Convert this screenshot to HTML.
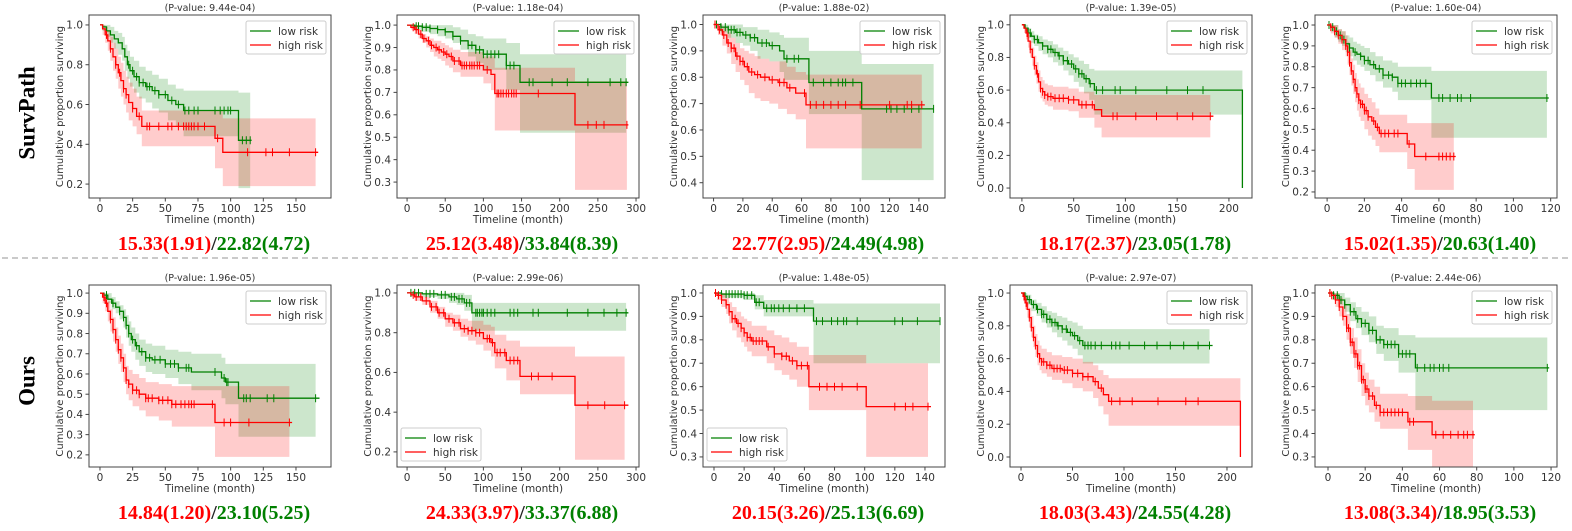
<!DOCTYPE html>
<html><head><meta charset="utf-8">
<style>
html,body{margin:0;padding:0;background:#fff;}
svg{display:block;}
text{font-family:"DejaVu Sans","Liberation Sans",sans-serif;}
</style></head>
<body>
<svg id="fig" width="1572" height="531" viewBox="0 0 1572 531" xmlns="http://www.w3.org/2000/svg">
<line x1="2" y1="258" x2="1570" y2="258" stroke="#aaa" stroke-width="1.3" stroke-dasharray="6,4"/>
<text x="29" y="113" transform="rotate(-90 29 113)" text-anchor="middle" dominant-baseline="middle" style="font-family:'Liberation Serif',serif;font-weight:bold;font-size:23px">SurvPath</text>
<text x="29" y="381" transform="rotate(-90 29 381)" text-anchor="middle" dominant-baseline="middle" style="font-family:'Liberation Serif',serif;font-weight:bold;font-size:23px">Ours</text>
</svg>
<script>
// ---------- DATA ----------
const titles=["(P-value: 9.44e-04)","(P-value: 1.18e-04)","(P-value: 1.88e-02)","(P-value: 1.39e-05)","(P-value: 1.60e-04)",
"(P-value: 1.96e-05)","(P-value: 2.99e-06)","(P-value: 1.48e-05)","(P-value: 2.97e-07)","(P-value: 2.44e-06)"];
const highScores=["15.33(1.91)","25.12(3.48)","22.77(2.95)","18.17(2.37)","15.02(1.35)","14.84(1.20)","24.33(3.97)","20.15(3.26)","18.03(3.43)","13.08(3.34)"];
const lowScores=["22.82(4.72)","33.84(8.39)","24.49(4.98)","23.05(1.78)","20.63(1.40)","23.10(5.25)","33.37(6.88)","25.13(6.69)","24.55(4.28)","18.95(3.53)"];
const xTicks1=[0,25,50,75,100,125,150];
const xTicks2=[0,50,100,150,200,250,300];
const xTicks3=[0,20,40,60,80,100,120,140];
const xTicks4=[0,50,100,150,200];
const xTicks5=[0,20,40,60,80,100,120];
const yTicksA=[0.2,0.4,0.6,0.8,1.0];
const yTicksB=[0.3,0.4,0.5,0.6,0.7,0.8,0.9,1.0];
const yTicksC=[0.4,0.5,0.6,0.7,0.8,0.9,1.0];
const yTicksD=[0.0,0.2,0.4,0.6,0.8,1.0];
const yTicksE=[0.2,0.3,0.4,0.5,0.6,0.7,0.8,0.9,1.0];

// Top 1
const t1LowT=[2,5,8,11,14,17,19,21,23,26,30,35,40,45,52,58,64,106];
const t1LowS=[0.99,0.97,0.95,0.93,0.91,0.88,0.84,0.8,0.77,0.74,0.71,0.69,0.67,0.65,0.62,0.6,0.57,0.42];
const t1LowLo=[0.97,0.94,0.91,0.88,0.85,0.82,0.77,0.73,0.69,0.66,0.63,0.61,0.58,0.56,0.52,0.49,0.44,0.18];
const t1LowHi=[1,1,0.99,0.97,0.96,0.94,0.9,0.87,0.84,0.82,0.79,0.77,0.75,0.73,0.7,0.68,0.67,0.66];
const t1LowC=[22,25,28,30,33,36,38,42,45,50,55,60,65,68,72,75,88,92,95,98,100,109,112,115];
const t1HighT=[2,4,6,8,10,12,14,16,18,20,22,25,28,32,88,94];
const t1HighS=[0.98,0.95,0.92,0.88,0.84,0.8,0.76,0.72,0.68,0.65,0.61,0.58,0.54,0.49,0.43,0.36];
const t1HighLo=[0.95,0.91,0.87,0.82,0.77,0.73,0.68,0.64,0.6,0.56,0.52,0.49,0.45,0.39,0.28,0.19];
const t1HighHi=[1,0.99,0.97,0.94,0.91,0.88,0.84,0.81,0.77,0.74,0.71,0.68,0.64,0.57,0.57,0.53];
const t1HighC=[5,8,12,15,18,20,25,30,36,38,45,52,55,60,64,66,68,70,72,75,80,90,113,127,132,145,165];
// Top 2
const t2LowT=[10,20,30,40,50,60,70,80,90,100,130,148];
const t2LowS=[0.995,0.99,0.985,0.98,0.97,0.95,0.93,0.91,0.89,0.87,0.82,0.745];
const t2LowLo=[0.98,0.97,0.96,0.95,0.94,0.92,0.89,0.86,0.83,0.8,0.71,0.52];
const t2LowHi=[1,1,1,1,1,0.99,0.98,0.96,0.95,0.94,0.92,0.87];
const t2LowC=[12,15,20,25,30,40,50,60,70,80,85,90,95,100,105,110,115,120,130,135,140,160,165,190,210,237,266,280,287];
const t2HighT=[5,10,15,20,25,30,35,40,45,50,55,60,70,100,110,115,220];
const t2HighS=[0.99,0.98,0.96,0.94,0.93,0.91,0.9,0.89,0.88,0.87,0.86,0.84,0.82,0.8,0.78,0.695,0.555];
const t2HighLo=[0.98,0.96,0.94,0.92,0.9,0.88,0.86,0.85,0.84,0.82,0.81,0.79,0.77,0.74,0.71,0.53,0.265];
const t2HighHi=[1,1,0.98,0.96,0.95,0.94,0.93,0.93,0.92,0.91,0.9,0.89,0.88,0.86,0.86,0.81,0.75];
const t2HighC=[8,12,18,22,28,32,38,42,48,52,58,62,68,72,75,78,82,85,88,92,95,105,118,120,123,126,130,133,137,140,143,172,237,248,258,288];
// Top 3
const t3LowT=[5,10,15,20,25,30,38,45,48,65,101];
const t3LowS=[0.99,0.98,0.97,0.96,0.95,0.93,0.92,0.9,0.87,0.78,0.68];
const t3LowLo=[0.97,0.95,0.93,0.92,0.9,0.87,0.86,0.82,0.79,0.66,0.41];
const t3LowHi=[1,1,1,0.99,0.99,0.98,0.97,0.96,0.95,0.9,0.85];
const t3LowC=[2,5,8,10,12,14,16,18,22,25,28,33,36,40,50,55,58,68,75,80,85,88,90,95,118,121,125,130,135,140,150];
const t3HighT=[3,6,9,12,15,18,21,24,28,32,38,44,50,56,63];
const t3HighS=[0.98,0.96,0.93,0.91,0.88,0.86,0.84,0.82,0.81,0.8,0.79,0.78,0.76,0.74,0.695];
const t3HighLo=[0.96,0.92,0.89,0.85,0.82,0.79,0.77,0.74,0.72,0.71,0.7,0.68,0.66,0.64,0.53];
const t3HighHi=[1,0.99,0.97,0.95,0.93,0.91,0.9,0.89,0.88,0.87,0.86,0.86,0.84,0.82,0.81];
const t3HighC=[1,4,7,10,12,14,16,18,20,23,26,30,35,40,45,48,52,62,66,70,75,80,85,90,100,120,132,135,142];
// Top 4
const t4LowT=[3,6,9,12,16,20,25,30,35,40,45,50,55,60,65,70,213];
const t4LowS=[0.98,0.95,0.93,0.91,0.89,0.87,0.85,0.83,0.81,0.78,0.76,0.73,0.7,0.67,0.64,0.6,0.0];
const t4LowLo=[0.96,0.92,0.89,0.87,0.84,0.82,0.8,0.77,0.75,0.72,0.69,0.65,0.62,0.58,0.54,0.45,0.45];
const t4LowHi=[1,0.98,0.96,0.94,0.93,0.91,0.9,0.88,0.86,0.84,0.82,0.8,0.78,0.76,0.73,0.72,0.72];
const t4LowC=[8,12,15,20,25,28,32,36,40,44,48,52,55,58,62,66,72,78,90,95,110,140,160,175];
const t4HighT=[2,4,6,8,10,12,14,16,18,20,22,25,30,45,55,70,77];
const t4HighS=[0.98,0.95,0.9,0.85,0.8,0.75,0.7,0.65,0.61,0.59,0.57,0.56,0.55,0.54,0.51,0.48,0.44];
const t4HighLo=[0.95,0.91,0.86,0.8,0.75,0.69,0.64,0.59,0.55,0.53,0.51,0.5,0.48,0.47,0.43,0.37,0.31];
const t4HighHi=[1,0.98,0.94,0.9,0.86,0.81,0.77,0.72,0.68,0.66,0.64,0.63,0.62,0.61,0.59,0.57,0.57];
const t4HighC=[5,8,12,15,18,20,22,25,28,32,36,40,45,50,58,62,68,88,92,110,130,150,165,182];
// Top 5
const t5LowT=[2,4,6,8,10,12,14,16,18,20,23,26,30,35,38,56];
const t5LowS=[0.99,0.97,0.95,0.93,0.91,0.89,0.87,0.86,0.85,0.83,0.81,0.79,0.76,0.75,0.72,0.65];
const t5LowLo=[0.97,0.94,0.92,0.9,0.87,0.85,0.83,0.81,0.8,0.78,0.76,0.73,0.7,0.68,0.64,0.46];
const t5LowHi=[1,1,0.98,0.97,0.95,0.94,0.92,0.91,0.9,0.89,0.87,0.85,0.83,0.82,0.8,0.78];
const t5LowC=[1,3,5,7,9,12,15,18,20,22,25,28,30,33,35,38,40,42,45,48,50,53,60,62,66,70,72,77,118];
const t5HighT=[2,4,6,8,10,11,12,13,14,15,16,17,18,20,22,24,26,28,43,47];
const t5HighS=[0.99,0.97,0.95,0.93,0.9,0.87,0.82,0.78,0.74,0.7,0.67,0.64,0.62,0.59,0.56,0.54,0.51,0.48,0.43,0.37];
const t5HighLo=[0.96,0.94,0.91,0.88,0.85,0.81,0.76,0.71,0.67,0.63,0.59,0.56,0.54,0.5,0.47,0.45,0.42,0.39,0.31,0.21];
const t5HighHi=[1,1,0.98,0.97,0.95,0.92,0.88,0.84,0.81,0.77,0.74,0.72,0.7,0.67,0.65,0.63,0.6,0.57,0.53,0.53];
const t5HighC=[2,4,6,8,10,11,12,13,14,15,16,17,18,19,20,21,22,25,27,29,31,33,36,38,44,53,60,62,64,66,68];
// Bottom 1
const b1LowT=[3,6,9,12,15,18,20,22,24,27,30,35,40,50,60,70,93,96,106];
const b1LowS=[0.99,0.97,0.95,0.93,0.91,0.88,0.84,0.8,0.77,0.74,0.71,0.68,0.67,0.65,0.63,0.61,0.58,0.56,0.48];
const b1LowLo=[0.97,0.95,0.92,0.9,0.87,0.83,0.78,0.74,0.71,0.67,0.64,0.61,0.6,0.58,0.55,0.52,0.48,0.45,0.29];
const b1LowHi=[1,1,0.98,0.96,0.94,0.92,0.89,0.86,0.83,0.8,0.77,0.75,0.74,0.72,0.71,0.7,0.68,0.65,0.65];
const b1LowC=[5,10,15,18,20,22,25,28,32,35,38,42,46,50,54,57,60,66,68,88,95,97,98,110,112,115,128,133,165];
const b1HighT=[2,4,6,8,10,12,14,16,18,20,22,25,30,35,45,55,88];
const b1HighS=[0.98,0.95,0.91,0.87,0.82,0.77,0.72,0.68,0.63,0.57,0.55,0.52,0.5,0.48,0.47,0.45,0.36];
const b1HighLo=[0.95,0.91,0.86,0.81,0.76,0.71,0.65,0.61,0.56,0.5,0.47,0.44,0.42,0.39,0.37,0.34,0.19];
const b1HighHi=[1,0.99,0.96,0.92,0.88,0.83,0.79,0.75,0.7,0.64,0.62,0.6,0.58,0.56,0.55,0.54,0.54];
const b1HighC=[3,5,8,10,12,14,16,18,20,22,25,28,30,35,37,40,45,48,52,55,58,62,65,68,70,72,86,95,100,114,145];
// Bottom 2
const b2LowT=[20,40,55,65,75,85];
const b2LowS=[0.995,0.99,0.98,0.97,0.95,0.9];
const b2LowLo=[0.98,0.97,0.95,0.94,0.91,0.81];
const b2LowHi=[1,1,1,1,0.99,0.95];
const b2LowC=[5,10,15,25,30,35,45,50,58,62,68,72,78,82,90,92,95,98,100,105,110,115,135,140,145,165,172,210,237,258,275,287];
const b2HighT=[5,10,20,30,40,50,60,70,80,90,100,110,115,130,148,220];
const b2HighS=[0.99,0.98,0.96,0.93,0.9,0.87,0.85,0.82,0.81,0.8,0.77,0.75,0.7,0.66,0.58,0.435];
const b2HighLo=[0.98,0.96,0.94,0.9,0.87,0.83,0.81,0.78,0.76,0.74,0.71,0.68,0.62,0.56,0.49,0.16];
const b2HighHi=[1,1,0.98,0.96,0.93,0.9,0.89,0.87,0.86,0.86,0.84,0.83,0.79,0.76,0.73,0.68];
const b2HighC=[8,12,18,25,32,38,42,48,55,62,68,75,80,85,90,95,105,108,112,118,122,128,135,140,145,163,172,190,237,259,285];
// Bottom 3
const b3LowT=[5,20,27,33,66];
const b3LowS=[0.995,0.99,0.96,0.935,0.88];
const b3LowLo=[0.98,0.97,0.93,0.9,0.7];
const b3LowHi=[1,1,0.99,0.97,0.955];
const b3LowC=[5,8,10,12,14,16,18,20,22,25,28,30,35,38,40,43,46,50,55,60,68,72,78,82,86,88,95,120,125,135,150];
const b3HighT=[2,5,8,10,12,15,18,20,22,25,35,40,45,50,55,63,101];
const b3HighS=[0.99,0.97,0.95,0.92,0.89,0.87,0.85,0.83,0.81,0.795,0.77,0.74,0.73,0.71,0.69,0.6,0.515];
const b3HighLo=[0.97,0.94,0.91,0.87,0.84,0.81,0.79,0.77,0.75,0.73,0.7,0.67,0.65,0.63,0.6,0.5,0.3];
const b3HighHi=[1,1,0.98,0.96,0.94,0.92,0.9,0.89,0.88,0.86,0.84,0.82,0.81,0.79,0.77,0.735,0.7];
const b3HighC=[1,3,5,8,10,12,14,16,18,20,22,24,26,28,30,32,36,40,45,48,52,55,58,62,70,75,80,85,95,120,127,132,142];
// Bottom 4
const b4LowT=[3,6,10,15,20,25,30,35,40,45,50,55,60];
const b4LowS=[0.98,0.96,0.93,0.9,0.87,0.84,0.82,0.8,0.78,0.76,0.74,0.71,0.68];
const b4LowLo=[0.96,0.93,0.89,0.86,0.82,0.79,0.76,0.73,0.71,0.68,0.66,0.62,0.57];
const b4LowHi=[1,0.99,0.96,0.94,0.92,0.89,0.88,0.86,0.85,0.83,0.82,0.8,0.78];
const b4LowC=[4,8,12,16,20,22,25,28,30,33,36,40,44,48,52,57,62,65,68,72,78,88,92,96,105,120,132,145,158,172,183];
const b4HighT=[2,4,6,8,10,12,14,16,18,20,25,30,40,50,60,70,75,80,85,213];
const b4HighS=[0.98,0.94,0.9,0.85,0.79,0.73,0.68,0.63,0.6,0.58,0.56,0.54,0.53,0.51,0.49,0.46,0.42,0.38,0.34,0.0];
const b4HighLo=[0.95,0.9,0.85,0.79,0.73,0.67,0.61,0.56,0.53,0.51,0.49,0.47,0.45,0.42,0.4,0.36,0.31,0.26,0.19,0.19];
const b4HighHi=[1,0.98,0.95,0.91,0.86,0.8,0.75,0.71,0.68,0.66,0.64,0.62,0.61,0.6,0.58,0.56,0.53,0.5,0.48,0.48];
const b4HighC=[3,5,8,10,12,14,16,18,20,22,25,28,32,35,38,42,45,50,55,60,65,72,78,88,96,108,133,160,172];
// Bottom 5
const b5LowT=[3,6,9,12,15,18,22,26,30,38,47];
const b5LowS=[0.99,0.97,0.95,0.92,0.89,0.87,0.84,0.8,0.78,0.74,0.68];
const b5LowLo=[0.97,0.95,0.92,0.88,0.85,0.82,0.79,0.74,0.71,0.66,0.5];
const b5LowHi=[1,1,0.98,0.96,0.94,0.92,0.9,0.86,0.85,0.82,0.81];
const b5LowC=[1,3,5,7,9,12,14,16,18,20,22,24,26,28,30,32,34,36,38,40,42,44,48,52,55,57,60,62,65,118];
const b5HighT=[2,4,6,8,10,12,14,16,18,20,22,25,28,43,56];
const b5HighS=[0.99,0.97,0.94,0.9,0.85,0.79,0.74,0.69,0.63,0.59,0.56,0.52,0.49,0.45,0.395];
const b5HighLo=[0.97,0.94,0.9,0.86,0.8,0.74,0.68,0.62,0.56,0.52,0.49,0.45,0.42,0.33,0.25];
const b5HighHi=[1,1,0.98,0.95,0.91,0.85,0.81,0.76,0.7,0.66,0.63,0.6,0.57,0.56,0.54];
const b5HighC=[1,2,4,6,8,10,11,12,13,14,15,16,17,18,19,20,21,22,24,26,28,30,32,34,36,38,40,44,46,58,62,66,70,73,75,78];
const lowEnds=[116,290,150,213,119,168,290,150,186,119];
const highEnds=[167,290,144,185,69,147,290,144,213,79];

// ---------- LAYOUT ----------
const boxLefts=[89,397,703,1010,1315];
const W=242;
const panels=[
 {row:0,col:0,xl:[-8.4,176.8],yl:[0.13,1.05],xt:xTicks1,yt:yTicksA,low:[t1LowT,t1LowS,t1LowLo,t1LowHi,t1LowC],high:[t1HighT,t1HighS,t1HighLo,t1HighHi,t1HighC],leg:'ur'},
 {row:0,col:1,xl:[-13.2,303.9],yl:[0.229,1.045],xt:xTicks2,yt:yTicksB,low:[t2LowT,t2LowS,t2LowLo,t2LowHi,t2LowC],high:[t2HighT,t2HighS,t2HighLo,t2HighHi,t2HighC],leg:'ur'},
 {row:0,col:2,xl:[-7.2,157.8],yl:[0.342,1.036],xt:xTicks3,yt:yTicksC,low:[t3LowT,t3LowS,t3LowLo,t3LowHi,t3LowC],high:[t3HighT,t3HighS,t3HighLo,t3HighHi,t3HighC],leg:'ur'},
 {row:0,col:3,xl:[-11.5,222.3],yl:[-0.061,1.06],xt:xTicks4,yt:yTicksD,low:[t4LowT,t4LowS,t4LowLo,t4LowHi,t4LowC],high:[t4HighT,t4HighS,t4HighLo,t4HighHi,t4HighC],leg:'ur'},
 {row:0,col:4,xl:[-6.5,123.4],yl:[0.171,1.048],xt:xTicks5,yt:yTicksE,low:[t5LowT,t5LowS,t5LowLo,t5LowHi,t5LowC],high:[t5HighT,t5HighS,t5HighLo,t5HighHi,t5HighC],leg:'ur'},
 {row:1,col:0,xl:[-8.4,176.8],yl:[0.14,1.04],xt:xTicks1,yt:yTicksE,low:[b1LowT,b1LowS,b1LowLo,b1LowHi,b1LowC],high:[b1HighT,b1HighS,b1HighLo,b1HighHi,b1HighC],leg:'ur'},
 {row:1,col:1,xl:[-13.2,303.9],yl:[0.124,1.04],xt:xTicks2,yt:yTicksA,low:[b2LowT,b2LowS,b2LowLo,b2LowHi,b2LowC],high:[b2HighT,b2HighS,b2HighLo,b2HighHi,b2HighC],leg:'ll'},
 {row:1,col:2,xl:[-7.3,153.3],yl:[0.257,1.034],xt:xTicks3,yt:yTicksB,low:[b3LowT,b3LowS,b3LowLo,b3LowHi,b3LowC],high:[b3HighT,b3HighS,b3HighLo,b3HighHi,b3HighC],leg:'ll'},
 {row:1,col:3,xl:[-10.7,224.3],yl:[-0.061,1.049],xt:xTicks4,yt:yTicksD,low:[b4LowT,b4LowS,b4LowLo,b4LowHi,b4LowC],high:[b4HighT,b4HighS,b4HighLo,b4HighHi,b4HighC],leg:'ur'},
 {row:1,col:4,xl:[-7,123.2],yl:[0.257,1.034],xt:xTicks5,yt:yTicksB,low:[b5LowT,b5LowS,b5LowLo,b5LowHi,b5LowC],high:[b5HighT,b5HighS,b5HighLo,b5HighHi,b5HighC],leg:'ur'}
];
const rowTop=[15,285], rowBot=[198,467];
const NS='http://www.w3.org/2000/svg';
const svg=document.getElementById('fig');
function mk(tag,attrs,parent,txt){const e=document.createElementNS(NS,tag);for(const k in attrs)e.setAttribute(k,attrs[k]);if(txt!==undefined)e.textContent=txt;(parent||svg).appendChild(e);return e;}
function stepVal(T,S,x){let v=1;for(let i=0;i<T.length;i++){if(T[i]<=x)v=S[i];}return v;}

panels.forEach((p,i)=>{
 const L=boxLefts[p.col],R=L+W,Tp=rowTop[p.row],B=rowBot[p.row];
 const sx=v=>L+(v-p.xl[0])/(p.xl[1]-p.xl[0])*W;
 const sy=v=>B-(v-p.yl[0])/(p.yl[1]-p.yl[0])*(B-Tp);
 const g=mk('g',{});
 
 
 const cid='clip'+i;
 const cp=mk('clipPath',{id:cid},g);mk('rect',{x:L,y:Tp,width:W,height:B-Tp},cp);
 const plot=mk('g',{'clip-path':'url(#'+cid+')'},g);
 const series=[['low',p.low,'#008000','rgba(0,128,0,0.2)',lowEnds[i]],['high',p.high,'#ff0000','rgba(255,0,0,0.2)',highEnds[i]]];
 // bands
 series.forEach(([nm,d,col,fill,end])=>{
  const [T,S,Lo,Hi,C]=d;
  const bandEnd=Math.max(C.length?C[C.length-1]:0,T[T.length-1]);
  let up='M'+sx(0)+','+sy(1),lo='';
  let prevHi=1,prevLo=1;
  const ups=[[0,1]],los=[[0,1]];
  T.forEach((t,k)=>{ups.push([t,prevHi]);ups.push([t,Hi[k]]);prevHi=Hi[k];los.push([t,prevLo]);los.push([t,Lo[k]]);prevLo=Lo[k];});
  ups.push([bandEnd,prevHi]);los.push([bandEnd,prevLo]);
  const pts=ups.concat(los.reverse());
  const dstr='M'+pts.map(q=>sx(q[0]).toFixed(1)+','+sy(q[1]).toFixed(1)).join('L')+'Z';
  const band=mk('path',{d:dstr,fill:fill,stroke:'none'},plot);
  
  
 });
 series.forEach(([nm,d,col,fill,end])=>{
  const [T,S,Lo,Hi,C]=d;
  let pts=[[0,1]],prev=1;
  T.forEach((t,k)=>{pts.push([t,prev]);pts.push([t,S[k]]);prev=S[k];});
  pts.push([end,prev]);
  const line=mk('path',{d:'M'+pts.map(q=>sx(q[0]).toFixed(1)+','+sy(q[1]).toFixed(1)).join('L'),fill:'none',stroke:col,'stroke-width':1.3},plot);
  
  
  let cd='';
  C.forEach(c=>{const x=sx(c),y=sy(stepVal(T,S,c));cd+='M'+x.toFixed(1)+','+(y-4).toFixed(1)+'V'+(y+4).toFixed(1);});
  const cm=mk('path',{d:cd,stroke:col,'stroke-width':1,fill:'none'},plot);
  
  
 });
 // axes frame
 const fr=mk('rect',{x:L,y:Tp,width:W,height:B-Tp,fill:'none',stroke:'#444','stroke-width':1},g);
 
 
 p.xt.forEach(v=>{const x=sx(v);mk('line',{x1:x,y1:B,x2:x,y2:B+3.5,stroke:'#444'},g);
  const t=mk('text',{x:x,y:B+14,'text-anchor':'middle','font-size':'10.5',fill:'#333'},g,String(v));
  });
 p.yt.forEach(v=>{const y=sy(v);mk('line',{x1:L-3.5,y1:y,x2:L,y2:y,stroke:'#444'},g);
  const t=mk('text',{x:L-6,y:y+3.8,'text-anchor':'end','font-size':'10.5',fill:'#333'},g,v.toFixed(1));
  });
 const xt=mk('text',{x:L+W/2,y:B+25,'text-anchor':'middle','font-size':'10.5',fill:'#333'},g,'Timeline (month)');
 
 const yx=L-29,yy=(Tp+B)/2;
 const yt=mk('text',{x:yx,y:yy,transform:'rotate(-90 '+yx+' '+yy+')','text-anchor':'middle','dominant-baseline':'middle','font-size':'10',fill:'#333'},g,'Cumulative proportion surviving');
 
 const tt=mk('text',{x:L+W/2,y:Tp-4,'text-anchor':'middle','font-size':'9.5',fill:'#333'},g,titles[i]);
 
 // legend
 let lx,ly;
 if(p.leg==='ur'){lx=R-85;ly=Tp+6;}else{lx=L+4;ly=B-39;}
 const lg=mk('g',{},g);
 
 
 mk('rect',{x:lx,y:ly,width:80,height:33,rx:2,fill:'#fff','fill-opacity':0.85,stroke:'#ccc'},lg);
 [['low risk','#008000'],['high risk','#ff0000']].forEach((e,k)=>{
  const yy2=ly+10+k*14;
  mk('line',{x1:lx+4,y1:yy2,x2:lx+25,y2:yy2,stroke:e[1],'stroke-width':1.3},lg);
  const lt=mk('text',{x:lx+32,y:yy2+3.8,'font-size':'10.5',fill:'#333'},lg,e[0]);
  
 });
 // score
 const sc=mk('text',{x:L+W/2+4,y:p.row?519:250,'text-anchor':'middle',style:"font-family:'Liberation Serif',serif;font-weight:bold;font-size:20px"},g);
 
 
 mk('tspan',{fill:'#ff0000'},sc,highScores[i]);
 mk('tspan',{fill:'#222'},sc,'/');
 mk('tspan',{fill:'#008000'},sc,lowScores[i]);
});
</script>
</body></html>
